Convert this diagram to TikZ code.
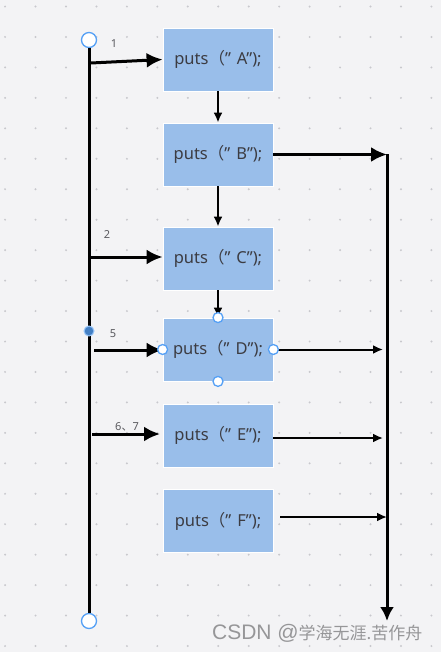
\documentclass[tikz,border=0pt]{standalone}
\usepackage{fontspec}
\setmainfont{Noto Sans}
\newfontfamily\cjk{Noto Sans CJK SC}
\newfontfamily\marklatin{Liberation Sans}
\usetikzlibrary{positioning, arrows.meta}
\definecolor{boxblue}{RGB}{153,190,234}
\definecolor{bggray}{RGB}{243,243,245}
\definecolor{dotgray}{RGB}{200,200,205}
\definecolor{handleblue}{RGB}{85,160,245}
\definecolor{txtgray}{RGB}{60,60,66}
\definecolor{numgray}{RGB}{90,90,95}
\definecolor{markgray}{RGB}{150,150,152}
\newcommand{\putsline}[1]{puts{\cjk （}”\hspace{6pt}#1");}
\tikzset{
	stmt/.style={fill=boxblue, draw=white, line width=0.8pt, minimum width=110pt, minimum height=63pt, inner sep=0pt, text=txtgray, font=\fontsize{16.5}{18}\selectfont},
	bigarrow/.style={line width=3pt, -{Latex[length=16pt,width=15pt]}},
	thinarrow/.style={line width=2pt, -{Latex[length=10pt,width=9pt]}},
	handle/.style={circle, draw=handleblue, fill=white, line width=1.3pt, inner sep=0pt, minimum size=#1},
	numlabel/.style={text=numgray, font=\fontsize{11}{12}\selectfont}
}
\begin{document}
\begin{tikzpicture}[x=1pt, y=-1pt]
		
		\fill[bggray] (0,0) rectangle (441,652);
		\useasboundingbox (0,0) rectangle (441,652);
		\foreach \i in {0,...,14}
			\foreach \j in {0,...,21}
				\fill[dotgray] ({5.1+30.45*\i},{6.55+30.45*\j}) circle[radius=1.1pt];
		
		\node[stmt] (boxA) at (218,59.5) {\putsline{A}};
		\node[stmt] (boxB) at (218,154.5) {\putsline{B}};
		\node[stmt] (boxC) at (218,258.5) {\putsline{C}};
		\node[stmt] (boxD) at (218,349.5) {\putsline{D}};
		\node[stmt] (boxE) at (218,435.5) {\putsline{E}};
		\node[stmt] (boxF) at (218,521) {\putsline{F}};
		
		\node[handle=15pt] (ltop) at (89,40) {};
		\node[handle=15pt] (lbot) at (89,621) {};
		\draw[line width=3pt] (ltop.south) -- (lbot.north);
		\node[circle, fill=handleblue!80!black, draw=handleblue!60, line width=1pt, inner sep=0pt, minimum size=10pt] (mark5) at (89,331) {};
		
		\coordinate (s1) at (91,63);
		\coordinate (s2) at (90,257);
		\coordinate (s5) at (94,350);
		\coordinate (s67) at (92,434);
		\coordinate (e67) at (160,434);
		\draw[bigarrow] (s1) -- (boxA.west);
		\draw[bigarrow] (s2) -- (s2 -| boxC.west);
		\draw[bigarrow] (s5) -- (s5 -| boxD.west);
		\draw[bigarrow] (s67) -- (e67);
		\node[numlabel] (n1) at (114,44) {1};
		\node[numlabel] (n2) at (107,235) {2};
		\node[numlabel] (n5) at (113,334) {5};
		\node[numlabel] (n67) at (127,427) {6{\cjk 、}7};
		
		\draw[thinarrow] (boxA) -- (boxB);
		\draw[thinarrow] (boxB) -- (boxC);
		\draw[thinarrow] (boxC) -- (boxD);
		
		\coordinate (rtop) at (387,154.5);
		\coordinate (rbot) at (387,621);
		\draw[bigarrow] (boxB.east) -- (rtop);
		\draw[line width=3pt, -{Latex[length=14pt,width=14pt]}] (rtop) -- (rbot);
		\coordinate (dend) at (383,349.5);
		\coordinate (eend) at (383,438);
		\coordinate (fstart) at (280,517);
		\coordinate (fend) at (387,517);
		\draw[thinarrow] (boxD.east) -- (dend);
		\draw[thinarrow] (boxE.east |- eend) -- (eend);
		\draw[thinarrow] (fstart) -- (fend);
		
		\node[handle=10pt] (hn) at (boxD.north) {};
		\node[handle=10pt] (hs) at (boxD.south) {};
		\node[handle=10pt] (hw) at (boxD.west) {};
		\node[handle=10pt] (he) at (boxD.east) {};
		
		\node[text=markgray, anchor=east] (mark) at (426,633) {{\marklatin\fontsize{21}{22}\selectfont CSDN @}{\cjk\fontsize{17}{20}\selectfont 学海无涯.苦作舟}};
		
\end{tikzpicture}
\end{document}
